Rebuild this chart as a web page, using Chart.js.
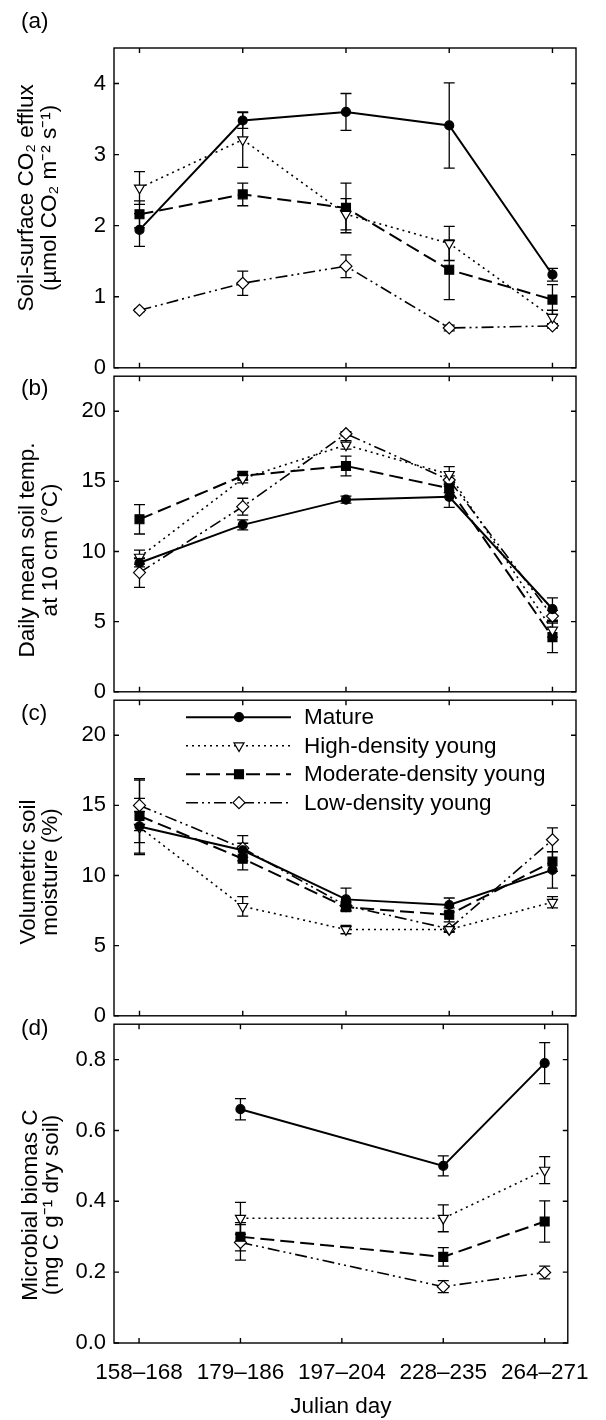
<!DOCTYPE html>
<html>
<head>
<meta charset="utf-8">
<script src="https://cdn.jsdelivr.net/npm/chart.js@4/dist/chart.umd.min.js"></script>
<style>
  html, body { margin: 0; padding: 0; background: #fff; }
  #page { position: relative; width: 606px; height: 1420px; overflow: hidden; background: #fff; }
  #page canvas { position: absolute; left: 0; }
  .tag { position: absolute; left: 21px; font: 22.5px/22px 'Liberation Sans', Arial, sans-serif; color: #000; }
</style>
</head>
<body>
<div id="page">
  <canvas id="panelA" width="606" height="389" style="top:0px"></canvas>
  <canvas id="panelB" width="606" height="358" style="top:355px"></canvas>
  <canvas id="panelC" width="606" height="358" style="top:679px"></canvas>
  <canvas id="panelD" width="606" height="417" style="top:1003px"></canvas>
  <div class="tag" style="top:10px">(a)</div>
  <div class="tag" style="top:377px">(b)</div>
  <div class="tag" style="top:702px">(c)</div>
  <div class="tag" style="top:1017px">(d)</div>
</div>
<script>
const categories = ['158–168', '179–186', '197–204', '228–235', '264–271']
const seriesNames = ['Mature', 'High-density young', 'Moderate-density young', 'Low-density young']

// (a) soil-surface CO2 efflux
const effluxTicks = [0, 1, 2, 3, 4]
const effluxMature = [1.94, 3.48, 3.60, 3.41, 1.31]
const effluxMatureErr = [0.23, 0.11, 0.26, 0.60, 0.09]
const effluxHigh = [2.53, 3.21, 2.16, 1.75, 0.71]
const effluxHighErr = [0.23, 0.39, 0.22, 0.24, 0.10]
const effluxModerate = [2.16, 2.44, 2.25, 1.38, 0.96]
const effluxModerateErr = [0.19, 0.16, 0.35, 0.42, 0.21]
const effluxLow = [0.81, 1.19, 1.43, 0.56, 0.59]
const effluxLowErr = [0.02, 0.17, 0.16, 0.04, 0.03]

// (b) daily mean soil temperature at 10 cm
const tempTicks = [0, 5, 10, 15, 20]
const tempMature = [9.2, 11.9, 13.7, 13.9, 5.9]
const tempMatureErr = [0.3, 0.35, 0.25, 0.75, 0.8]
const tempHigh = [9.6, 15.2, 17.6, 15.5, 4.4]
const tempHighErr = [0.5, 0.3, 0.3, 0.55, 0.5]
const tempModerate = [12.3, 15.4, 16.1, 14.5, 3.9]
const tempModerateErr = [1.05, 0.3, 0.7, 0.3, 1.1]
const tempLow = [8.5, 13.2, 18.4, 15.1, 5.4]
const tempLowErr = [1.05, 0.6, 0.15, 0.3, 0.4]

// (c) volumetric soil moisture
const moistureTicks = [0, 5, 10, 15, 20]
const moistureMature = [13.5, 11.8, 8.3, 7.9, 10.4]
const moistureMatureErr = [2.0, 0.5, 0.8, 0.5, 1.3]
const moistureHigh = [13.45, 7.8, 6.15, 6.15, 8.1]
const moistureHighErr = [1.1, 0.7, 0.3, 0.2, 0.4]
const moistureModerate = [14.25, 11.2, 7.75, 7.2, 11.0]
const moistureModerateErr = [2.65, 0.8, 0.3, 0.5, 0.7]
const moistureLow = [15.0, 11.95, 7.85, 6.2, 12.55]
const moistureLowErr = [1.8, 0.9, 0.3, 0.2, 0.85]

// (d) microbial biomass C
const biomassTicks = [0, 0.2, 0.4, 0.6, 0.8]
const biomassMature = [null, 0.66, null, 0.50, 0.79]
const biomassMatureErr = [null, 0.03, null, 0.028, 0.058]
const biomassHigh = [null, 0.352, null, 0.352, 0.488]
const biomassHighErr = [null, 0.045, null, 0.038, 0.038]
const biomassModerate = [null, 0.30, null, 0.243, 0.343]
const biomassModerateErr = [null, 0.04, null, 0.026, 0.058]
const biomassLow = [null, 0.284, null, 0.159, 0.199]
const biomassLowErr = [null, 0.05, null, 0.017, 0.018]

const family = "'Liberation Sans', Arial, Helvetica, sans-serif"

const seriesStyles = [
  { dash: [], width: 2, point: 'circle', radius: 4.5, rotation: 0, fill: '#000' },
  { dash: [2, 4], width: 1.6, point: 'triangle', radius: 5.8, rotation: 180, fill: '#fff' },
  { dash: [14, 6], width: 2, point: 'rect', radius: 6.3, rotation: 0, fill: '#000' },
  { dash: [12, 4, 2, 4, 2, 4], width: 1.6, point: 'rectRot', radius: 6, rotation: 0, fill: '#fff' }
]

function buildDatasets(values, errors) {
  return values.map(function (vals, k) {
    let st = seriesStyles[k]
    return {
      label: seriesNames[k],
      data: vals.map((v, i) => ({ x: i, y: v })),
      errors: errors[k],
      borderColor: '#000',
      borderWidth: st.width,
      borderDash: st.dash,
      pointStyle: st.point,
      pointRadius: st.radius,
      pointHoverRadius: st.radius,
      pointRotation: st.rotation,
      pointBackgroundColor: st.fill,
      pointBorderColor: '#000',
      pointBorderWidth: 1.2,
      spanGaps: true,
      tension: 0,
      fill: false
    }
  })
}

// vertical error bars, drawn under the lines and markers
const errorBars = {
  id: 'errorBars',
  beforeDatasetsDraw(chart) {
    const ctx = chart.ctx, xs = chart.scales.x, ys = chart.scales.y
    ctx.save()
    ctx.strokeStyle = '#000'
    ctx.lineWidth = 1.3
    chart.data.datasets.forEach(function (ds) {
      ds.data.forEach(function (p, i) {
        let e = ds.errors[i]
        if (p.y == null || !e) return
        let x = xs.getPixelForValue(p.x)
        let y1 = ys.getPixelForValue(p.y - e)
        let y2 = ys.getPixelForValue(p.y + e)
        ctx.beginPath()
        ctx.moveTo(x, y1); ctx.lineTo(x, y2)
        ctx.moveTo(x - 5.5, y1); ctx.lineTo(x + 5.5, y1)
        ctx.moveTo(x - 5.5, y2); ctx.lineTo(x + 5.5, y2)
        ctx.stroke()
      })
    })
    ctx.restore()
  }
}

// box round the plot area with inward ticks on all four sides
const frame = {
  id: 'frame',
  afterDraw(chart) {
    const ctx = chart.ctx, a = chart.chartArea, xs = chart.scales.x, ys = chart.scales.y
    ctx.save()
    ctx.strokeStyle = '#000'
    ctx.lineWidth = 1.4
    ctx.strokeRect(a.left, a.top, a.right - a.left, a.bottom - a.top)
    ctx.beginPath()
    ys.ticks.forEach(function (t) {
      let py = ys.getPixelForValue(t.value)
      ctx.moveTo(a.left, py); ctx.lineTo(a.left + 5, py)
      ctx.moveTo(a.right, py); ctx.lineTo(a.right - 5, py)
    })
    categories.forEach(function (c, i) {
      let px = xs.getPixelForValue(i)
      ctx.moveTo(px, a.top); ctx.lineTo(px, a.top + 5)
      ctx.moveTo(px, a.bottom); ctx.lineTo(px, a.bottom - 5)
    })
    ctx.stroke()
    ctx.restore()
  }
}

// two-line rotated y caption
function sideTitle(lines, shiftY, baselines) {
  return {
    id: 'sideTitle',
    afterDraw(chart) {
      const ctx = chart.ctx, a = chart.chartArea
      let cy = (a.top + a.bottom) / 2 + shiftY
      ctx.save()
      ctx.fillStyle = '#000'
      ctx.font = '22.5px ' + family
      ctx.textAlign = 'center'
      ctx.textBaseline = 'alphabetic'
      lines.forEach(function (line, i) {
        ctx.save()
        ctx.translate(baselines[i], cy)
        ctx.rotate(-Math.PI / 2)
        ctx.fillText(line, 0, 0)
        ctx.restore()
      })
      ctx.restore()
    }
  }
}

// legend inside panel (c)
const sampleLegend = {
  id: 'sampleLegend',
  afterDraw(chart) {
    const ctx = chart.ctx, top = chart.chartArea.top
    chart.data.datasets.forEach(function (ds, k) {
      let y = top + 17 + k * 28.5
      ctx.save()
      ctx.strokeStyle = '#000'
      ctx.lineWidth = ds.borderWidth
      ctx.setLineDash(ds.borderDash)
      ctx.beginPath(); ctx.moveTo(186, y); ctx.lineTo(291, y); ctx.stroke()
      ctx.setLineDash([])
      ctx.fillStyle = ds.pointBackgroundColor
      ctx.lineWidth = ds.pointBorderWidth
      Chart.helpers.drawPoint(ctx, {
        pointStyle: ds.pointStyle, rotation: ds.pointRotation,
        radius: ds.pointRadius, borderWidth: ds.pointBorderWidth
      }, 239, y)
      ctx.fillStyle = '#000'
      ctx.font = '22.5px ' + family
      ctx.textAlign = 'left'
      ctx.textBaseline = 'middle'
      ctx.fillText(ds.label, 304, y + 1)
      ctx.restore()
    })
  }
}

function xScale(showLabels) {
  return {
    type: 'linear',
    min: -0.247,
    max: 4.228,
    display: showLabels,
    afterBuildTicks: s => { s.ticks = categories.map((c, i) => ({ value: i })) },
    afterFit: s => { if (showLabels) s.height = 77 },
    grid: { display: false, drawTicks: false },
    border: { display: false },
    ticks: {
      autoSkip: false, maxRotation: 0, minRotation: 0, color: '#000', padding: 16,
      font: { family: family, size: 22.5 },
      callback: v => categories[v]
    },
    title: {
      display: showLabels, text: 'Julian day', color: '#000',
      font: { family: family, size: 22.5 }, padding: { top: 0, bottom: 0 }
    }
  }
}

function yScale(ticks, max, decimals) {
  return {
    type: 'linear',
    min: 0,
    max: max,
    afterBuildTicks: s => { s.ticks = ticks.map(v => ({ value: v })) },
    afterFit: s => { s.width = 114 },
    grid: { display: false, drawTicks: false },
    border: { display: false },
    ticks: {
      color: '#000', padding: 8,
      font: { family: family, size: 22 },
      callback: v => Number(v).toFixed(decimals)
    }
  }
}

function makePanel(id, cfg) {
  let plugins = [errorBars, frame, sideTitle(cfg.title, cfg.shiftY, cfg.baselines)]
  if (cfg.legend) plugins.push(sampleLegend)
  return new Chart(document.getElementById(id), {
    type: 'line',
    data: { datasets: buildDatasets(cfg.values, cfg.errors) },
    options: {
      responsive: false,
      animation: false,
      events: [],
      layout: { padding: { top: cfg.padTop, bottom: cfg.padBottom, left: 0, right: 30 } },
      plugins: { legend: { display: false }, tooltip: { enabled: false } },
      scales: { x: xScale(cfg.bottom), y: yScale(cfg.ticks, cfg.max, cfg.decimals) }
    },
    plugins: plugins
  })
}

makePanel('panelA', {
  values: [effluxMature, effluxHigh, effluxModerate, effluxLow],
  errors: [effluxMatureErr, effluxHighErr, effluxModerateErr, effluxLowErr],
  ticks: effluxTicks, max: 4.5, decimals: 0,
  title: ['Soil-surface CO₂ efflux', '(µmol CO₂ m⁻² s⁻¹)'],
  shiftY: -10, baselines: [33, 55.5],
  padTop: 48, padBottom: 17, bottom: false
})

makePanel('panelB', {
  values: [tempMature, tempHigh, tempModerate, tempLow],
  errors: [tempMatureErr, tempHighErr, tempModerateErr, tempLowErr],
  ticks: tempTicks, max: 22.5, decimals: 0,
  title: ['Daily mean soil temp.', 'at 10 cm (°C)'],
  shiftY: 16, baselines: [34, 57],
  padTop: 17, padBottom: 17, bottom: false
})

makePanel('panelC', {
  values: [moistureMature, moistureHigh, moistureModerate, moistureLow],
  errors: [moistureMatureErr, moistureHighErr, moistureModerateErr, moistureLowErr],
  ticks: moistureTicks, max: 22.5, decimals: 0,
  title: ['Volumetric soil', 'moisture (%)'],
  shiftY: 14, baselines: [35, 57],
  padTop: 17, padBottom: 17, bottom: false, legend: true
})

makePanel('panelD', {
  values: [biomassMature, biomassHigh, biomassModerate, biomassLow],
  errors: [biomassMatureErr, biomassHighErr, biomassModerateErr, biomassLowErr],
  ticks: biomassTicks, max: 0.9, decimals: 1,
  title: ['Microbial biomas C', '(mg C g⁻¹ dry soil)'],
  shiftY: 21.5, baselines: [36.5, 57.5],
  padTop: 17, padBottom: 0, bottom: true
})
</script>
</body>
</html>
